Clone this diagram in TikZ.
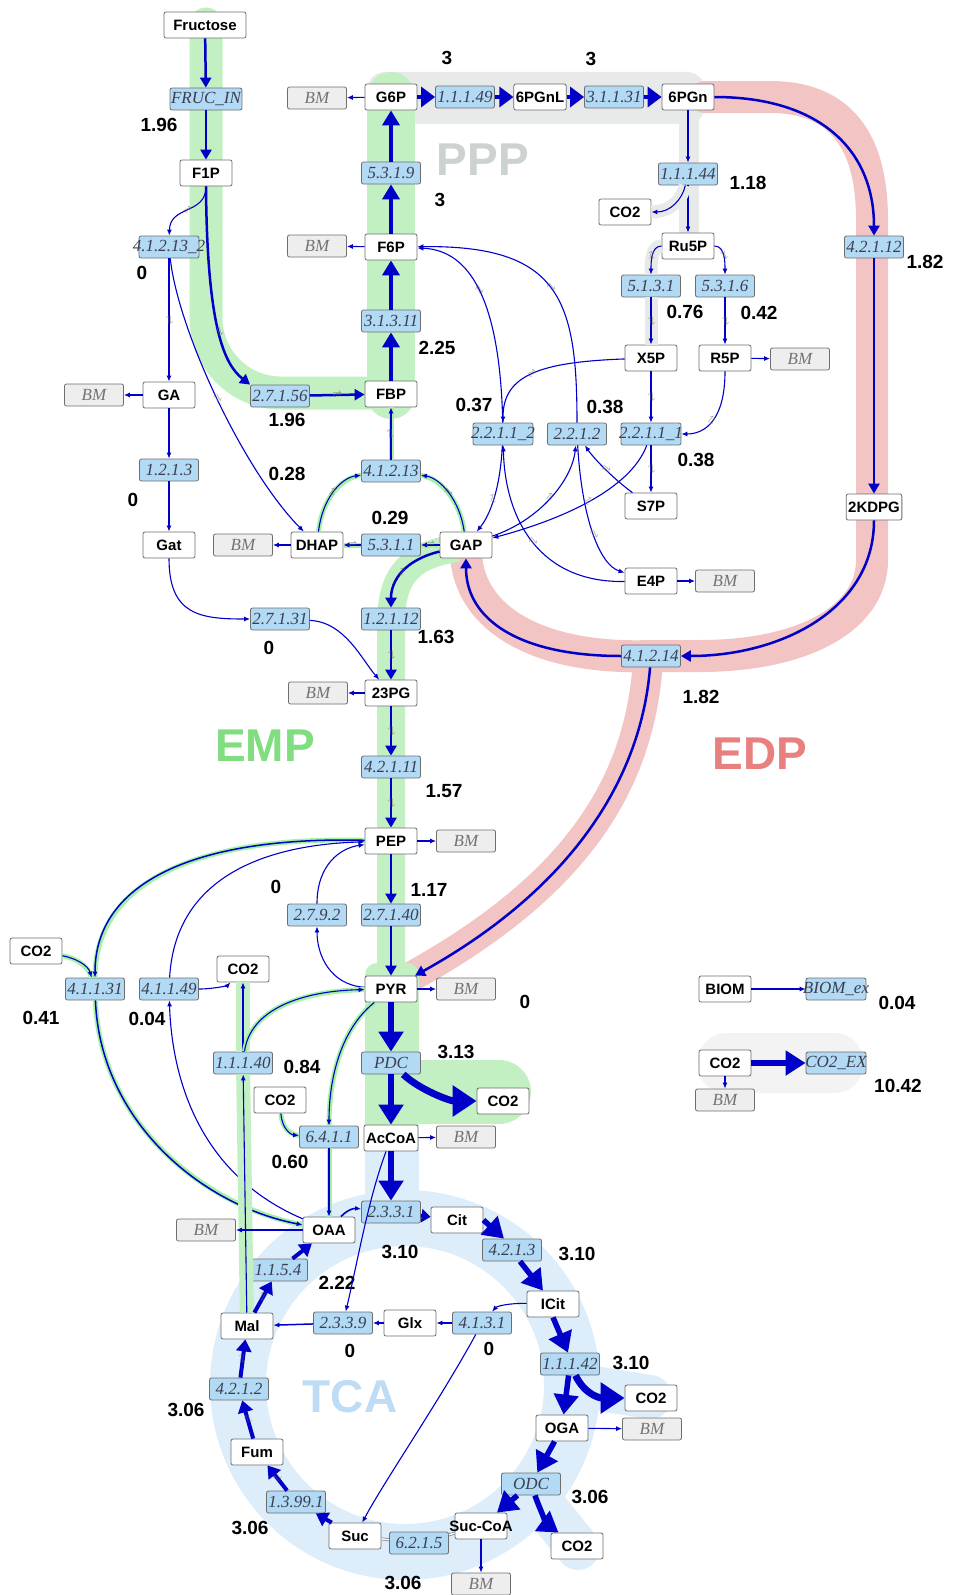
\documentclass[tikz,border=0pt]{standalone}
\usepackage{fontspec}
\setmainfont{Liberation Serif}
\newfontfamily\arialfam{Liberation Sans}
\usetikzlibrary{arrows.meta}
\definecolor{edgeblue}{RGB}{0,0,200}
\definecolor{enzfill}{RGB}{178,218,245}
\definecolor{bmfill}{RGB}{238,238,238}
\definecolor{boxline}{RGB}{110,110,110}
\definecolor{enztext}{RGB}{60,62,80}
\definecolor{empband}{RGB}{194,240,194}
\definecolor{edpband}{RGB}{243,196,196}
\definecolor{pppband}{RGB}{232,234,234}
\definecolor{tcaband}{RGB}{222,237,250}
\definecolor{emptext}{RGB}{128,222,128}
\definecolor{edptext}{RGB}{232,128,128}
\definecolor{ppptext}{RGB}{204,209,209}
\definecolor{tcatext}{RGB}{190,220,245}
\definecolor{co2bg}{RGB}{243,243,243}
\newcommand{\metfont}{\arialfam\bfseries\fontsize{15}{15}\selectfont}
\newcommand{\enzfont}{\itshape\fontsize{17}{17}\selectfont}
\newcommand{\fluxfont}{\arialfam\bfseries\fontsize{19}{19}\selectfont}
\newcommand{\pathfont}{\arialfam\bfseries\fontsize{46}{46}\selectfont}
\newcommand{\revmark}{$\rightleftharpoons$}
\tikzset{
    mynodem/.style = {rectangle, rounded corners=2pt, draw=boxline, line width=0.8pt, fill=white, minimum width=52pt, minimum height=26pt, inner sep=2pt, font=\metfont, text=black},
    mynodee/.style = {rectangle, rounded corners=2pt, draw=boxline, line width=0.8pt, fill=enzfill, minimum width=59pt, minimum height=22pt, inner xsep=1pt, inner ysep=2pt, font=\enzfont, text=enztext},
    mynodeb/.style = {mynodee, fill=bmfill, text=black!55},
    fluxn/.style = {font=\fluxfont, inner sep=0pt},
    pathn/.style = {font=\pathfont, inner sep=0pt},
    edgen/.style = {-{Latex[length=6pt,width=5pt]}, line width=1.1pt, edgeblue},
    edgem/.style = {-{Triangle[length=10pt,width=11pt]}, line width=2.5pt, edgeblue},
    edgec/.style = {-{Triangle[length=12pt,width=15pt]}, line width=4pt, edgeblue},
    edget/.style = {-{Triangle[length=15pt,width=17pt]}, line width=4pt, edgeblue},
    edgep/.style = {-{Triangle[length=14pt,width=20pt]}, line width=4pt, edgeblue},
    edgeh/.style = {-{Triangle[length=20pt,width=24pt]}, line width=5.5pt, edgeblue},
    edgehh/.style = {-{Triangle[length=24pt,width=30pt]}, line width=7pt, edgeblue},
    edgerev/.style = {draw=gray, double=white, double distance=1.4pt, line width=0.7pt},
    haloe/.style = {preaction={draw=empband!85!green, line width=5pt, -}},
    halow/.style = {preaction={draw=empband, line width=14pt, -}},
    halop/.style = {preaction={draw=pppband, line width=13pt, -}},
    revm/.style = {sloped, inner sep=0pt, font=\fontsize{9}{9}\selectfont, text=gray!80!black},
}
\begin{document}
\begin{tikzpicture}[x=1pt,y=-1pt]
\path[use as bounding box] (0,0) rectangle (955,1595);
% pathway bands
\draw[tcaband, line width=56pt] (405,1385) circle[radius=167pt];
\fill[tcaband] (365,1130) rectangle (419,1215);
\draw[tcaband, line width=44pt, line cap=round] (575,1385) -- (650,1397);
\draw[tcaband, line width=44pt, line cap=round] (531,1490) -- (578,1548);
\fill[pppband, rounded corners=18pt] (367,72) rectangle (705,124);
\fill[pppband] (679,110) rectangle (699,240);
\draw[edpband, line width=32pt, line cap=round] (705,97) -- (770,97) .. controls (840,97) and (872,140) .. (872,220) -- (872,560) .. controls (872,620) and (800,656) .. (700,656) -- (651,656) .. controls (540,660) and (470,620) .. (466,555);
\draw[edpband, line width=30pt] (648,660) .. controls (640,790) and (570,890) .. (405,980);
\draw[empband, line width=33pt, line cap=round, rounded corners=75pt] (206,24) -- (206,393) -- (391,393);
\draw[empband, line width=48pt, line cap=round] (391,395) -- (391,96);
\draw[empband, line width=28pt] (458,548) .. controls (405,555) and (391,580) .. (391,625) -- (391,975);
\fill[empband, rounded corners=12pt] (365,963) rectangle (419,1135);
\draw[empband, line width=64pt, line cap=round] (410,1092) -- (499,1092);
\fill[co2bg, rounded corners=28pt] (698,1033) rectangle (863,1093);
\node[pathn, text=ppptext] at (483,160) (lppp) {PPP};
\node[pathn, text=emptext] at (265,746) (lemp) {EMP};
\node[pathn, text=edptext] at (760,754) (ledp) {EDP};
\node[pathn, text=tcatext] at (350,1397) (ltca) {TCA};
% metabolites and reactions
\node[mynodem, minimum width=82pt] at (205,25) (fru) {Fructose};
\node[mynodee] at (206,99) (frucin) {FRUC\_IN};
\node[mynodem] at (206,173) (f1p) {F1P};
\node[mynodee] at (169,247) (e41213b) {\makebox[58pt]{4.1.2.13\_2}};
\node[mynodem] at (169,395) (ga) {GA};
\node[mynodeb] at (94,395) (bmga) {BM};
\node[mynodee] at (169,470) (e1213) {1.2.1.3};
\node[mynodem] at (169,545) (gat) {Gat};
\node[mynodeb] at (243,545) (bmdhap) {BM};
\node[mynodem] at (317,545) (dhap) {DHAP};
\node[mynodee] at (391,545) (e5311) {5.3.1.1};
\node[mynodem] at (466,545) (gap) {GAP};
\node[mynodee] at (391,471) (e41213) {4.1.2.13};
\node[mynodem] at (391,394) (fbp) {FBP};
\node[mynodee] at (280,396) (e27156) {2.7.1.56};
\node[mynodee] at (391,321) (e31311) {3.1.3.11};
\node[mynodem] at (391,247) (f6p) {F6P};
\node[mynodeb] at (317,246) (bmf6p) {BM};
\node[mynodee] at (391,173) (e5319) {5.3.1.9};
\node[mynodem] at (391,97) (g6p) {G6P};
\node[mynodeb] at (317,98) (bmg6p) {BM};
\node[mynodee] at (465,97) (e11149) {1.1.1.49};
\node[mynodem] at (540,97) (pgnl) {6PGnL};
\node[mynodee] at (614,97) (e31131) {3.1.1.31};
\node[mynodem] at (688,97) (pgn) {6PGn};
\node[mynodee] at (688,174) (e11144) {1.1.1.44};
\node[mynodem] at (625,212) (co2a) {CO2};
\node[mynodem] at (688,246) (ru5p) {Ru5P};
\node[mynodee] at (651,286) (e5131) {5.1.3.1};
\node[mynodee] at (725,286) (e5316) {5.3.1.6};
\node[mynodem] at (651,358) (x5p) {X5P};
\node[mynodem] at (725,358) (r5p) {R5P};
\node[mynodeb] at (800,359) (bmr5p) {BM};
\node[mynodee] at (503,434) (e22112) {\makebox[58pt]{2.2.1.1\_2}};
\node[mynodee] at (577,434) (e2212) {2.2.1.2};
\node[mynodee] at (651,434) (e22111) {\makebox[58pt]{2.2.1.1\_1}};
\node[mynodem] at (651,506) (s7p) {S7P};
\node[mynodem] at (651,581) (e4p) {E4P};
\node[mynodeb] at (725,581) (bme4p) {BM};
\node[mynodee] at (874,247) (e42112) {4.2.1.12};
\node[mynodem] at (874,507) (kdpg) {2KDPG};
\node[mynodee] at (651,656) (e41214) {4.1.2.14};
\node[mynodee] at (391,619) (e12112) {1.2.1.12};
\node[mynodee] at (280,619) (e27131) {2.7.1.31};
\node[mynodem] at (391,693) (pg23) {23PG};
\node[mynodeb] at (318,693) (bmpg) {BM};
\node[mynodee] at (391,767) (e42111) {4.2.1.11};
\node[mynodem] at (391,841) (pep) {PEP};
\node[mynodeb] at (466,841) (bmpep) {BM};
\node[mynodee] at (317,915) (e2792) {2.7.9.2};
\node[mynodee] at (391,915) (e27140) {2.7.1.40};
\node[mynodem] at (36,951) (co2b) {CO2};
\node[mynodee] at (95,989) (e41131) {4.1.1.31};
\node[mynodee] at (169,989) (e41149) {4.1.1.49};
\node[mynodem] at (243,969) (co2c) {CO2};
\node[mynodem] at (391,989) (pyr) {PYR};
\node[mynodeb] at (466,989) (bmpyr) {BM};
\node[mynodee] at (243,1063) (e11140) {1.1.1.40};
\node[mynodee] at (391,1063) (pdc) {PDC};
\node[mynodem] at (503,1101) (co2d) {CO2};
\node[mynodem] at (280,1100) (co2e) {CO2};
\node[mynodee] at (329,1137) (e6411) {6.4.1.1};
\node[mynodem] at (391,1138) (accoa) {AcCoA};
\node[mynodeb] at (466,1137) (bmaccoa) {BM};
\node[mynodee] at (391,1212) (e2331) {2.3.3.1};
\node[mynodem] at (457,1220) (cit) {Cit};
\node[mynodem] at (329,1230) (oaa) {OAA};
\node[mynodeb] at (206,1230) (bmoaa) {BM};
\node[mynodee] at (512,1250) (e4213) {4.2.1.3};
\node[mynodee] at (278,1270) (e1154) {1.1.5.4};
\node[mynodem] at (553,1304) (icit) {ICit};
\node[mynodem] at (247,1326) (mal) {Mal};
\node[mynodee] at (343,1323) (e2339) {2.3.3.9};
\node[mynodem] at (410,1323) (glx) {Glx};
\node[mynodee] at (482,1323) (e4131) {4.1.3.1};
\node[mynodee] at (570,1364) (e11142) {1.1.1.42};
\node[mynodem] at (651,1398) (co2f) {CO2};
\node[mynodem] at (562,1428) (oga) {OGA};
\node[mynodeb] at (652,1429) (bmoga) {BM};
\node[mynodee] at (239,1389) (e4212) {4.2.1.2};
\node[mynodem] at (257,1452) (fum) {Fum};
\node[mynodee] at (531,1484) (odc) {ODC};
\node[mynodee] at (296,1502) (e13991) {1.3.99.1};
\node[mynodem] at (355,1536) (suc) {Suc};
\node[mynodee] at (419,1543) (e6215) {6.2.1.5};
\node[mynodem] at (481,1526) (succoa) {\makebox[46pt]{Suc-CoA}};
\node[mynodem] at (577,1546) (co2g) {CO2};
\node[mynodeb] at (481,1584) (bmsuccoa) {BM};
\node[mynodem] at (725,989) (biom) {BIOM};
\node[mynodee] at (836,989) (biomex) {\makebox[58pt]{BIOM\_ex}};
\node[mynodem] at (725,1063) (co2h) {CO2};
\node[mynodee] at (836,1063) (co2ex) {\makebox[58pt]{CO2\_EX}};
\node[mynodeb] at (725,1100) (bmco2) {BM};
% flux values
\node[fluxn] at (159,125) (vfrucin) {1.96};
\node[fluxn] at (142,273) (ve41213b) {0};
\node[fluxn] at (447,58) (ve11149) {3};
\node[fluxn] at (591,59) (ve31131) {3};
\node[fluxn] at (440,200) (ve5319) {3};
\node[fluxn] at (437,348) (ve31311) {2.25};
\node[fluxn] at (287,420) (ve27156) {1.96};
\node[fluxn] at (748,183) (ve11144) {1.18};
\node[fluxn] at (925,262) (ve42112) {1.82};
\node[fluxn] at (685,312) (ve5131) {0.76};
\node[fluxn] at (759,313) (ve5316) {0.42};
\node[fluxn] at (474,405) (ve22112) {0.37};
\node[fluxn] at (605,407) (ve2212) {0.38};
\node[fluxn] at (696,460) (ve22111) {0.38};
\node[fluxn] at (133,500) (ve1213) {0};
\node[fluxn] at (287,474) (vdhap) {0.28};
\node[fluxn] at (390,518) (ve5311) {0.29};
\node[fluxn] at (269,648) (ve27131) {0};
\node[fluxn] at (436,637) (ve12112) {1.63};
\node[fluxn] at (701,697) (ve41214) {1.82};
\node[fluxn] at (444,791) (ve42111) {1.57};
\node[fluxn] at (276,887) (ve2792) {0};
\node[fluxn] at (429,890) (ve27140) {1.17};
\node[fluxn] at (41,1018) (ve41131) {0.41};
\node[fluxn] at (147,1019) (ve41149) {0.04};
\node[fluxn] at (525,1002) (vpyr) {0};
\node[fluxn] at (302,1067) (ve11140) {0.84};
\node[fluxn] at (456,1052) (vpdc) {3.13};
\node[fluxn] at (290,1162) (ve6411) {0.60};
\node[fluxn] at (400,1252) (ve2331) {3.10};
\node[fluxn] at (577,1254) (ve4213) {3.10};
\node[fluxn] at (337,1283) (ve1154) {2.22};
\node[fluxn] at (350,1351) (ve2339) {0};
\node[fluxn] at (489,1349) (ve4131) {0};
\node[fluxn] at (631,1363) (ve11142) {3.10};
\node[fluxn] at (186,1410) (ve4212) {3.06};
\node[fluxn] at (590,1497) (vodc) {3.06};
\node[fluxn] at (250,1528) (ve13991) {3.06};
\node[fluxn] at (403,1583) (ve6215) {3.06};
\node[fluxn] at (897,1003) (vbiom) {0.04};
\node[fluxn] at (898,1086) (vco2ex) {10.42};
% glycolysis and gluconeogenesis
\draw[edgem] (fru) -- (frucin);
\draw[edgem] (frucin) -- (f1p);
\draw[edgem] (f1p.south) .. controls (207,330) and (225,365) .. node[revm]{\revmark} (e27156.north west);
\draw[edgem] (e27156) -- node[revm]{\revmark} (fbp);
\draw[edget] (fbp) -- (e31311);
\draw[edget] (e31311) -- (f6p);
\draw[edget] (f6p) -- (e5319);
\draw[edget] (e5319) -- (g6p);
\draw[edgen] (g6p) -- (bmg6p);
\draw[edgen] (f6p) -- (bmf6p);
\draw[edgen] (f1p) .. controls (206,215) and (170,205) .. node[revm]{\revmark} (e41213b);
\draw[edgen] (e41213b) -- node[revm]{\revmark} (ga);
\draw[edgen] (e41213b) .. controls (178,330) and (243,470) .. node[revm]{\revmark} (dhap);
\draw[edgen] (ga) -- (bmga);
\draw[edgen] (ga) -- (e1213);
\draw[edgen] (e1213) -- (gat);
\draw[edgen] (gat) .. controls (169,615) and (200,619) .. (e27131);
\draw[edgen] (e27131) .. controls (345,622) and (362,660) .. (pg23);
\draw[edgen] (dhap) -- (bmdhap);
\draw[edgen, haloe] (gap) -- node[revm]{\revmark} (e5311);
\draw[edgen, haloe] (e5311) -- node[revm]{\revmark} (dhap);
\draw[edgen, haloe] (dhap) .. controls (322,500) and (340,478) .. node[revm]{\revmark} (e41213);
\draw[edgen, haloe] (gap) .. controls (460,500) and (440,478) .. node[revm]{\revmark} (e41213);
\draw[edgen, haloe] (e41213) -- node[revm]{\revmark} (fbp);
\draw[edgem] (gap) .. controls (405,560) and (391,580) .. node[revm]{\revmark} (e12112);
\draw[edgem] (e12112) -- node[revm]{\revmark} (pg23);
\draw[edgem] (pg23) -- node[revm]{\revmark} (e42111);
\draw[edgem] (e42111) -- node[revm]{\revmark} (pep);
\draw[edgem, line width=2pt] (pep) -- (e27140);
\draw[edgem, line width=2pt] (e27140) -- (pyr);
\draw[edgen] (pg23) -- (bmpg);
\draw[edgen] (pep) -- (bmpep);
\draw[edgen] (pyr) -- (bmpyr);
\draw[edgen] (accoa) -- (bmaccoa);
% pentose phosphate
\draw[edgep] (g6p) -- (e11149);
\draw[edgep] (e11149) -- (pgnl);
\draw[edgep] (pgnl) -- (e31131);
\draw[edgep] (e31131) -- (pgn);
\draw[edgen] (pgn) -- (e11144);
\draw[edgen] (e11144) -- (ru5p);
\draw[edgen, halop] (e11144) .. controls (682,200) and (670,212) .. (co2a);
\draw[edgen, halop] (ru5p) .. controls (651,246) and (651,262) .. node[revm]{\revmark} (e5131);
\draw[edgen] (ru5p) .. controls (725,246) and (725,262) .. node[revm]{\revmark} (e5316);
\draw[edgen, halop] (e5131) -- node[revm]{\revmark} (x5p);
\draw[edgen] (e5316) -- node[revm]{\revmark} (r5p);
\draw[edgen] (r5p) -- (bmr5p);
\draw[edgen] (e22112) .. controls (500,300) and (470,250) .. node[revm]{\revmark} (f6p);
\draw[edgen] (x5p) .. controls (540,362) and (503,375) .. node[revm]{\revmark} (e22112);
\draw[edgen] (e2212) .. controls (577,300) and (560,245) .. node[revm]{\revmark} (f6p);
\draw[edgen] (gap) .. controls (540,520) and (572,480) .. node[revm]{\revmark} (e2212);
\draw[edgen] (e2212) .. controls (582,520) and (600,565) .. node[revm]{\revmark} (e4p);
\draw[edgen] (s7p) .. controls (615,480) and (595,460) .. node[revm]{\revmark} (e2212);
\draw[edgen] (e4p) .. controls (540,583) and (505,520) .. node[revm]{\revmark} (e22112);
\draw[edgen] (e22112) .. controls (500,490) and (490,515) .. node[revm]{\revmark} (gap);
\draw[edgen] (x5p) -- node[revm]{\revmark} (e22111);
\draw[edgen] (r5p) .. controls (725,420) and (705,434) .. node[revm]{\revmark} (e22111);
\draw[edgen] (e22111) -- node[revm]{\revmark} (s7p);
\draw[edgen] (e22111) .. controls (630,490) and (560,520) .. node[revm]{\revmark} (gap);
\draw[edgen] (e4p) -- (bme4p);
% Entner-Doudoroff
\draw[edgem] (pgn) .. controls (820,97) and (874,150) .. (e42112);
\draw[edgem] (e42112) -- (kdpg);
\draw[edgem] (kdpg) .. controls (874,610) and (780,656) .. (e41214);
\draw[edgem] (e41214) .. controls (520,656) and (466,620) .. (gap);
\draw[edgem] (e41214) .. controls (640,790) and (560,895) .. (pyr);
% anaplerotic reactions
\draw[edgen] (pyr) .. controls (330,985) and (317,955) .. (e2792);
\draw[edgen] (e2792) .. controls (317,865) and (340,848) .. (pep);
\draw[edgen, line width=1.5pt, haloe] (pep) .. controls (200,836) and (95,880) .. (e41131);
\draw[edgen, haloe] (co2b) .. controls (75,958) and (88,965) .. (e41131);
\draw[edgen, line width=1.5pt, haloe] (e41131) .. controls (100,1120) and (200,1205) .. (oaa);
\draw[edgen] (oaa) .. controls (200,1175) and (172,1080) .. (e41149);
\draw[edgen] (e41149) .. controls (175,880) and (260,845) .. (pep);
\draw[edgen] (e41149) .. controls (215,989) and (228,985) .. (co2c);
\draw[edgen, halow] (mal) -- (e11140);
\draw[edgen, halow] (e11140) -- (co2c);
\draw[edgen, haloe] (e11140) .. controls (250,1010) and (300,991) .. (pyr);
\draw[edgen, haloe] (pyr) .. controls (340,1030) and (329,1080) .. (e6411);
\draw[edgen, haloe] (co2e) .. controls (282,1130) and (292,1135) .. (e6411);
\draw[edgen, haloe] (e6411) -- (oaa);
\draw[edgen] (oaa) -- (bmoaa);
\draw[edgen, line width=1.6pt] (oaa) .. controls (345,1212) and (352,1208) .. (e2331);
% pyruvate decarboxylation
\draw[edgeh] (pyr) -- (pdc);
\draw[edgeh] (pdc) -- (accoa);
\draw[edgehh] (pdc) .. controls (420,1090) and (450,1101) .. (co2d);
\draw[edgeh] (accoa) -- (e2331);
% TCA cycle
\draw[-{Triangle[length=9pt,width=13pt]}, line width=3.5pt, edgeblue] (e2331) -- (cit);
\draw[edgeh] (cit.east) -- ([xshift=-8pt]e4213.north);
\draw[edgeh] ([xshift=8pt]e4213.south) -- ([xshift=-10pt]icit.north);
\draw[edgeh] (icit.south) -- ([xshift=-2pt]e11142.north);
\draw[edgeh] (e11142) -- (oga);
\draw[edgehh] (e11142) .. controls (585,1395) and (600,1398) .. (co2f);
\draw[edgeh] (oga) -- (odc);
\draw[edgeh] (odc) -- (succoa);
\draw[edgeh] (odc) .. controls (540,1510) and (548,1525) .. (co2g);
\draw[edgerev] (succoa) -- (e6215);
\draw[edgerev] (e6215) -- (suc);
\draw[edgec] (suc) -- (e13991);
\draw[edgec] (e13991) -- node[revm]{\revmark} (fum);
\draw[edgec] (fum) -- node[revm]{\revmark} (e4212);
\draw[edgec] (e4212) -- node[revm]{\revmark} (mal);
\draw[edgec] (mal) -- node[revm]{\revmark} (e1154);
\draw[edgec] (e1154) -- (oaa);
\draw[edgen] (icit) .. controls (510,1303) and (497,1306) .. (e4131);
\draw[edgen] (e4131) -- (glx);
\draw[edgen] (glx) -- (e2339);
\draw[edgen, line width=1.5pt] (e2339) -- (mal);
\draw[edgen] (e4131) .. controls (440,1400) and (385,1480) .. (suc);
\draw[edgen] (accoa) .. controls (368,1200) and (358,1260) .. (e2339);
\draw[edgen] (oga) -- (bmoga);
\draw[edgen] (succoa) -- (bmsuccoa);
% exchange
\draw[edgen] (biom) -- (biomex);
\draw[edgeh] (co2h) -- (co2ex);
\draw[edgen] (co2h) -- (bmco2);
\end{tikzpicture}
\end{document}
